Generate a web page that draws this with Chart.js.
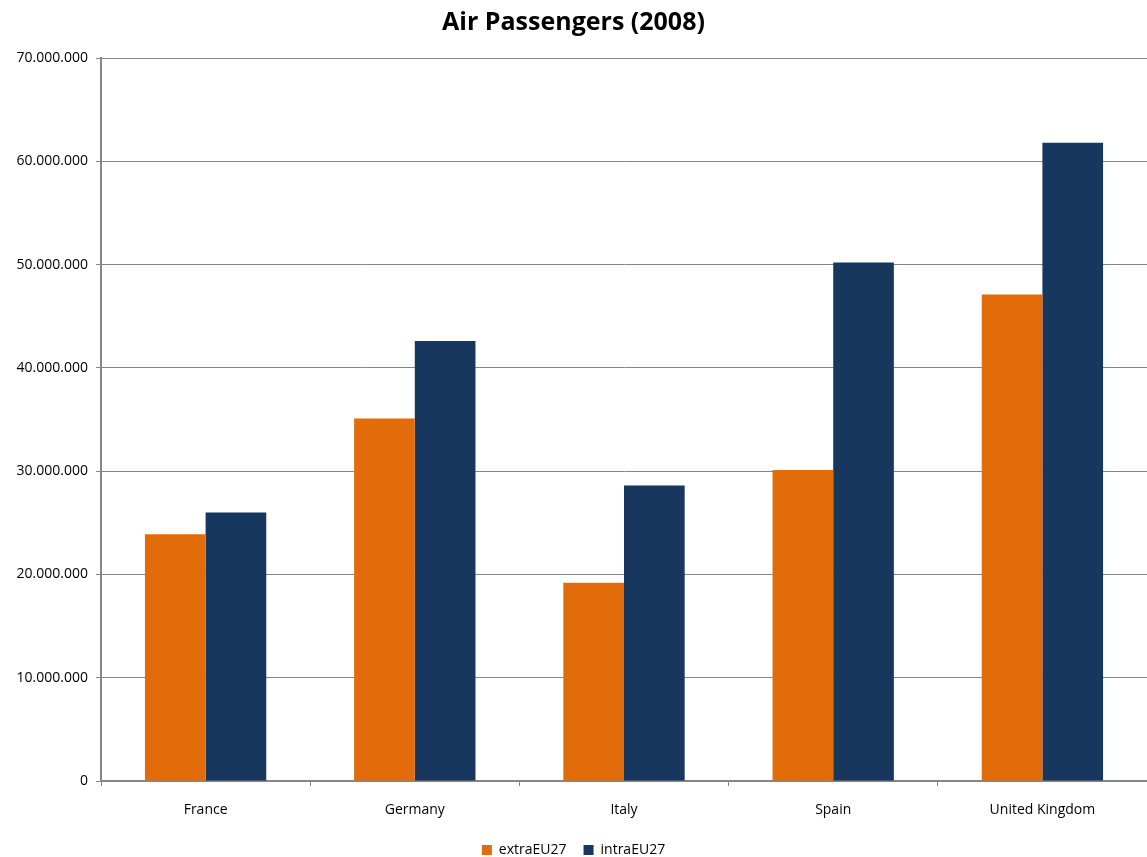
<!DOCTYPE html>
<html>
<head>
<meta charset="utf-8">
<script src="https://cdn.jsdelivr.net/npm/chart.js@4/dist/chart.umd.min.js"></script>
<style>
  html, body { margin: 0; padding: 0; background: #ffffff; }
  #wrap { width: 1147px; height: 857px; }
</style>
</head>
<body>
<div id="wrap"><canvas id="c" width="1147" height="857"></canvas></div>
<script>
const categories = ["France", "Germany", "Italy", "Spain", "United Kingdom"];
const extraEU27 = [23900000, 35100000, 19200000, 30100000, 47100000];
const intraEU27 = [26000000, 42600000, 28600000, 50200000, 61800000];
const seriesNames = ["extraEU27", "intraEU27"];
const titleText = "Air Passengers (2008)";

// thousands separated with dots: 70.000.000
function dotted(v) {
  return String(Math.round(v)).replace(/\B(?=(\d{3})+(?!\d))/g, ".");
}

const FONT = "'Open Sans', 'Liberation Sans', sans-serif";

new Chart(document.getElementById("c"), {
  type: "bar",
  data: {
    labels: categories,
    datasets: [
      { label: seriesNames[0], data: extraEU27, backgroundColor: "#E36C0A" },
      { label: seriesNames[1], data: intraEU27, backgroundColor: "#17375E" }
    ]
  },
  options: {
    responsive: false,
    animation: false,
    devicePixelRatio: 1,
    layout: { padding: { left: 0, right: 0, top: 0, bottom: 0 } },
    datasets: { bar: { categoryPercentage: 0.58, barPercentage: 1.0 } },
    plugins: {
      title: {
        display: true,
        text: titleText,
        color: "#000000",
        font: { family: FONT, size: 25, weight: "bold" },
        padding: { top: 8, bottom: 20 }
      },
      legend: {
        position: "bottom",
        maxHeight: 31,
        labels: {
          color: "#000000",
          font: { family: FONT, size: 14 },
          boxWidth: 10,
          boxHeight: 10,
          padding: 17
        }
      },
      tooltip: { enabled: false }
    },
    scales: {
      x: {
        offset: true,
        afterFit: (s) => { s.height = 45; },
        grid: {
          offset: true,
          drawOnChartArea: false,
          drawTicks: true,
          tickLength: 5,
          color: "#868686"
        },
        border: { color: "#868686", width: 2 },
        ticks: {
          color: "#000000",
          font: { family: FONT, size: 14 },
          padding: 16
        }
      },
      y: {
        min: 0,
        max: 70000000,
        afterFit: (s) => { s.width = 101; },
        grid: {
          color: "#868686",
          lineWidth: 1,
          tickLength: 5
        },
        border: { color: "#868686", width: 2 },
        ticks: {
          stepSize: 10000000,
          color: "#000000",
          font: { family: FONT, size: 14 },
          padding: 8,
          callback: (v) => dotted(v)
        }
      }
    }
  }
});
</script>
</body>
</html>
